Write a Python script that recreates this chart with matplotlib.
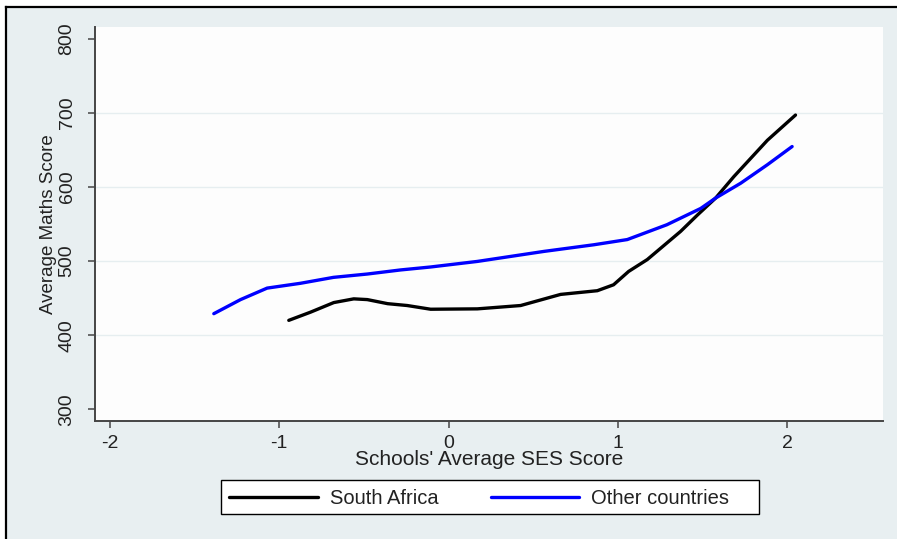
import matplotlib.pyplot as plt
from matplotlib.lines import Line2D
from matplotlib.patches import Rectangle

# School-level SES vs. average maths score (smoothed fits)
sa_ses = [-0.944, -0.816, -0.678, -0.56, -0.48, -0.36, -0.244, -0.106, 0.17,
          0.426, 0.662, 0.879, 0.975, 1.064, 1.174, 1.371, 1.47, 1.578,
          1.686, 1.884, 2.05]
sa_score = [420, 431, 444, 449, 448, 442.5, 440, 435, 435.5,
            440, 455, 460, 468, 486, 502, 540, 562, 585,
            614, 663, 697]

other_ses = [-1.387, -1.229, -1.072, -0.875, -0.68, -0.48, -0.284, -0.106,
             0.17, 0.563, 0.859, 1.056, 1.29, 1.49, 1.578, 1.726, 1.884, 2.03]
other_score = [429, 448, 463.5, 470, 478, 482.5, 488, 492,
               499.5, 513, 522, 529, 549, 571, 585, 605, 630, 654.5]

series_labels = ["South Africa", "Other countries"]
x_ticks = [-2, -1, 0, 1, 2]
y_ticks = [300, 400, 500, 600, 700, 800]
grid_ticks = [400, 500, 600, 700]

BG = "#E8EFF1"
SPINE = "#454545"
TEXT = "#222222"
W, H = 897, 539

plt.rcParams["font.family"] = ["Liberation Sans", "DejaVu Sans"]

fig = plt.figure(figsize=(W / 100, H / 100), dpi=100, facecolor="white")

# shaded graph region with a black frame on the left and top
fig.add_artist(Rectangle((6 / W, 0), 1, (H - 7) / H, transform=fig.transFigure,
                         facecolor=BG, edgecolor="none", zorder=-10))
fig.add_artist(Line2D([6 / W, 6 / W], [0, (H - 7) / H], transform=fig.transFigure,
                      color="black", lw=1.6))
fig.add_artist(Line2D([6 / W, 1], [(H - 7) / H, (H - 7) / H],
                      transform=fig.transFigure, color="black", lw=1.6))

ax = fig.add_axes([95 / W, (H - 420.7) / H, (883 - 95) / W, (420.7 - 27) / H])
ax.set_facecolor("#FDFDFD")

for g in grid_ticks:
    ax.axhline(g, color="#E6EEF0", lw=1.0, zorder=0)

h1, = ax.plot(sa_ses, sa_score, color="black", lw=2.4, solid_capstyle="round",
              solid_joinstyle="round")
h2, = ax.plot(other_ses, other_score, color="#0000FF", lw=2.4,
              solid_capstyle="round", solid_joinstyle="round")

ax.set_xlim(-2.089, 2.567)
ax.set_ylim(284.6, 815.8)
ax.set_xticks(x_ticks)
ax.set_xticklabels([str(t) for t in x_ticks])
ax.set_yticks(y_ticks)
ax.set_yticklabels([str(t) for t in y_ticks], rotation=90, va="center")

for side in ("top", "right"):
    ax.spines[side].set_visible(False)
for side in ("left", "bottom"):
    ax.spines[side].set_color(SPINE)
    ax.spines[side].set_linewidth(1.4)

ax.tick_params(axis="both", direction="out", length=5, width=1.1, color=SPINE,
               labelsize=14, labelcolor=TEXT)
ax.tick_params(axis="x", pad=5)
ax.tick_params(axis="y", pad=9)

ax.set_xlabel("Schools' Average SES Score", fontsize=15, color=TEXT,
              labelpad=-1)
ax.set_ylabel("Average Maths Score", fontsize=13.5, color=TEXT, labelpad=1)

# legend box drawn separately so it keeps a fixed width
fig.add_artist(Rectangle((221 / W, (H - 514) / H), 538 / W, 34 / H,
                         transform=fig.transFigure, facecolor="white",
                         edgecolor="black", lw=1.0, zorder=4))
leg = fig.legend([h1, h2], series_labels, loc="center left",
                 bbox_to_anchor=(229 / W, (H - 499) / H),
                 ncol=2, frameon=False, borderaxespad=0, borderpad=0,
                 handlelength=4.4, handletextpad=0.6, columnspacing=2.6,
                 fontsize=14.5)
leg.set_zorder(5)
for t in leg.get_texts():
    t.set_color(TEXT)

fig.savefig("out.png", dpi=100)
